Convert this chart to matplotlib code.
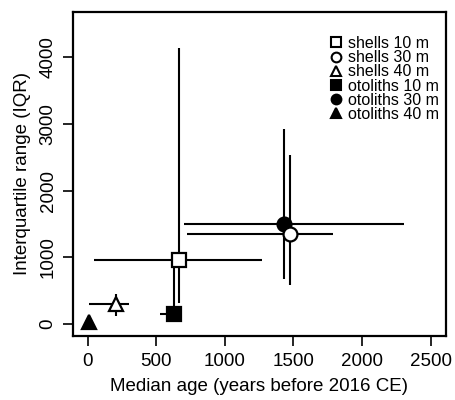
import numpy as np
import matplotlib
matplotlib.use("Agg")
import matplotlib.pyplot as plt
from matplotlib.lines import Line2D

plt.rcParams["font.family"] = ["Liberation Sans", "DejaVu Sans"]

labels = ["shells 10 m", "shells 30 m", "shells 40 m",
          "otoliths 10 m", "otoliths 30 m", "otoliths 40 m"]
markers = ["s", "o", "^", "s", "o", "^"]
filled = [False, False, False, True, True, True]

# median age and IQR per group
med_age = [667, 1473, 206, 629, 1430, 8]
iqr = [960, 1345, 295, 150, 1500, 35]
# ranges of the bars
age_lo = [46, 728, 11, 527, 701, 0]
age_hi = [1274, 1789, 301, 650, 2306, 15]
iqr_lo = [320, 585, 115, 100, 670, 0]
iqr_hi = [4135, 2535, 445, 950, 2925, 80]

fig = plt.figure(figsize=(4.56, 4.0), dpi=100)
ax = fig.add_axes([0.161, 0.16, 0.816, 0.811])

med_age = np.array(med_age)
iqr = np.array(iqr)
xerr = [med_age - np.array(age_lo), np.array(age_hi) - med_age]
yerr = [iqr - np.array(iqr_lo), np.array(iqr_hi) - iqr]

# bars first (otoliths under shells)
order = [3, 4, 5, 0, 1, 2]
for i in order:
    ax.errorbar(med_age[i], iqr[i],
                xerr=[[xerr[0][i]], [xerr[1][i]]],
                yerr=[[yerr[0][i]], [yerr[1][i]]],
                fmt="none", ecolor="black", elinewidth=1.5, capsize=0, zorder=2)

for i in order:
    fc = "black" if filled[i] else "white"
    ms = 10.5 if markers[i] == "s" and not filled[i] else 10
    ax.plot(med_age[i], iqr[i], marker=markers[i], ms=ms, mfc=fc, mec="black",
            mew=1.6, ls="none", zorder=3)

handles = [Line2D([], [], marker=m, ls="none", mfc="black" if f else "white",
                  mec="black", mew=1.5, ms=7)
           for m, f in zip(markers, filled)]
ax.legend(handles, labels, loc="upper left", frameon=False, fontsize=11.5,
          handlelength=1.0, handletextpad=0.28, labelspacing=-0.05,
          borderpad=0, borderaxespad=0,
          bbox_to_anchor=(0.7186, 0.91), bbox_transform=fig.transFigure)

ax.set_xlim(-103, 2609)
ax.set_ylim(-180, 4683)
ax.set_xticks([0, 500, 1000, 1500, 2000, 2500])
ax.set_yticks([0, 1000, 2000, 3000, 4000])
ax.tick_params(direction="out", length=7, width=1.2, labelsize=13.5, pad=5)
for lab in ax.get_yticklabels():
    lab.set_rotation(90)
    lab.set_va("center")
for s in ax.spines.values():
    s.set_linewidth(1.6)

ax.set_xlabel("Median age (years before 2016 CE)", fontsize=13.5, labelpad=6)
ax.set_ylabel("Interquartile range (IQR)", fontsize=13.5, labelpad=6)

fig.savefig("out.png", dpi=100)
